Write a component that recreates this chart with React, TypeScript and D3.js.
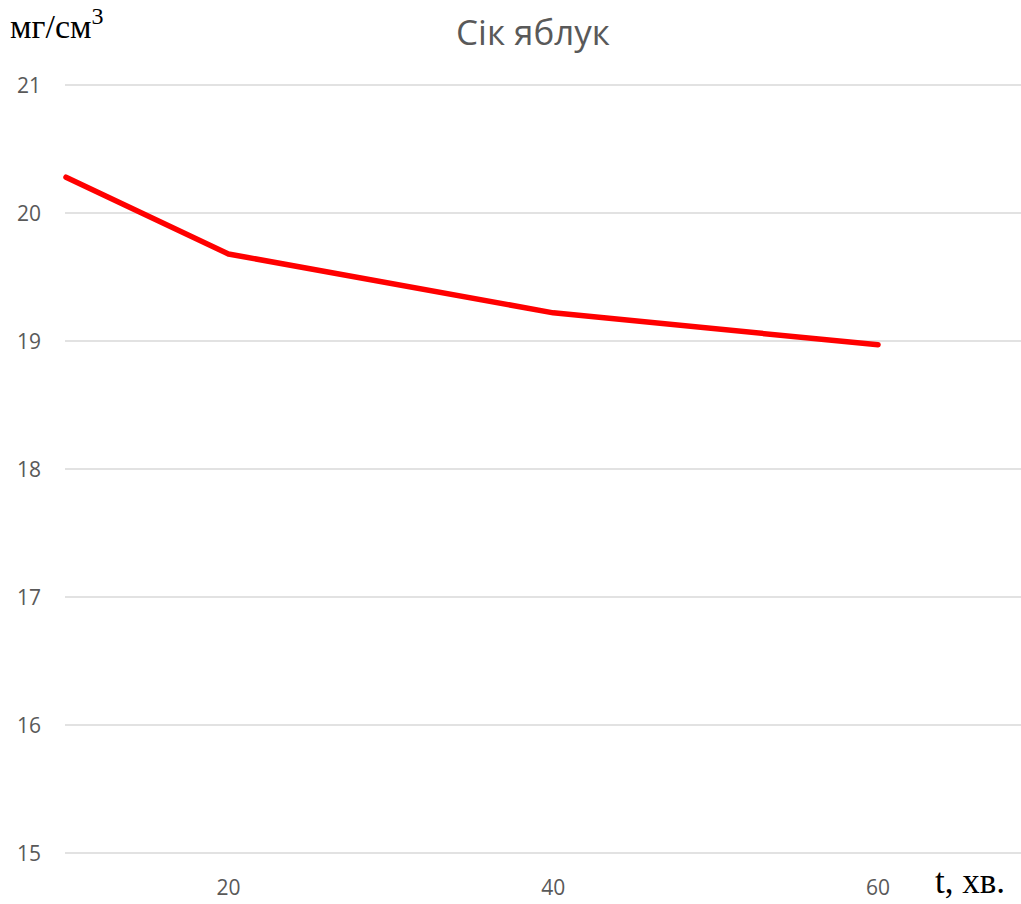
import React from "react";
import * as d3 from "d3";

// Концентрація у соку яблук залежно від часу
const times: number[] = [10, 20, 40, 60];
const concentration: number[] = [20.28, 19.68, 19.22, 18.97];
const yTicks: number[] = [15, 16, 17, 18, 19, 20, 21];
const xTickLabels: number[] = [20, 40, 60];

const chartTitle = "Сік яблук";
const yUnit = "мг/см";
const xUnit = "t, хв.";

const W = 1021;
const H = 904;
const plot = { left: 65, right: 1021, top: 85, bottom: 853 };

export default function App() {
  const x = d3.scaleLinear().domain([10, 68.8]).range([66, 1021]);
  const y = d3.scaleLinear().domain([15, 21]).range([plot.bottom, plot.top]);

  const line = d3
    .line<number>()
    .x((_, i) => x(times[i]))
    .y((d) => y(d));

  const tickFont = "'Open Sans', 'DejaVu Sans', sans-serif";
  const serif = "'Liberation Serif', 'DejaVu Serif', serif";

  return (
    <svg
      width={W}
      height={H}
      style={{ position: "absolute", left: 0, top: 0, background: "#fff" }}
    >
      <rect x={0} y={0} width={W} height={H} fill="#fff" />
      {/* горизонтальна сітка */}
      {yTicks.map((t) => (
        <line
          key={t}
          x1={plot.left}
          x2={plot.right}
          y1={y(t)}
          y2={y(t)}
          stroke="#d9d9d9"
          strokeWidth={1.5}
        />
      ))}
      {/* підписи осі Y */}
      {yTicks.map((t) => (
        <text
          key={"yl" + t}
          x={41}
          y={y(t)}
          dy="0.36em"
          textAnchor="end"
          fontFamily={tickFont}
          fontSize={21}
          fill="#595959"
        >
          {t}
        </text>
      ))}
      {/* підписи осі X */}
      {xTickLabels.map((t) => (
        <text
          key={"xl" + t}
          x={x(t)}
          y={895}
          textAnchor="middle"
          fontFamily={tickFont}
          fontSize={21}
          fill="#595959"
        >
          {t}
        </text>
      ))}
      {/* лінія даних */}
      <path
        d={line(concentration) || ""}
        fill="none"
        stroke="#ff0000"
        strokeWidth={5.5}
        strokeLinejoin="round"
        strokeLinecap="round"
      />
      {/* заголовок */}
      <text
        x={533}
        y={45}
        textAnchor="middle"
        fontFamily={tickFont}
        fontSize={35}
        fill="#595959"
      >
        {chartTitle}
      </text>
      {/* одиниці осей */}
      <text x={10} y={38} fontFamily={serif} fontSize={34} fill="#000">
        {yUnit}
        <tspan fontSize={24} dy={-14}>
          3
        </tspan>
      </text>
      <text
        x={935}
        y={893}
        fontFamily={serif}
        fontSize={35}
        fill="#000"
      >
        {xUnit}
      </text>
    </svg>
  );
}
